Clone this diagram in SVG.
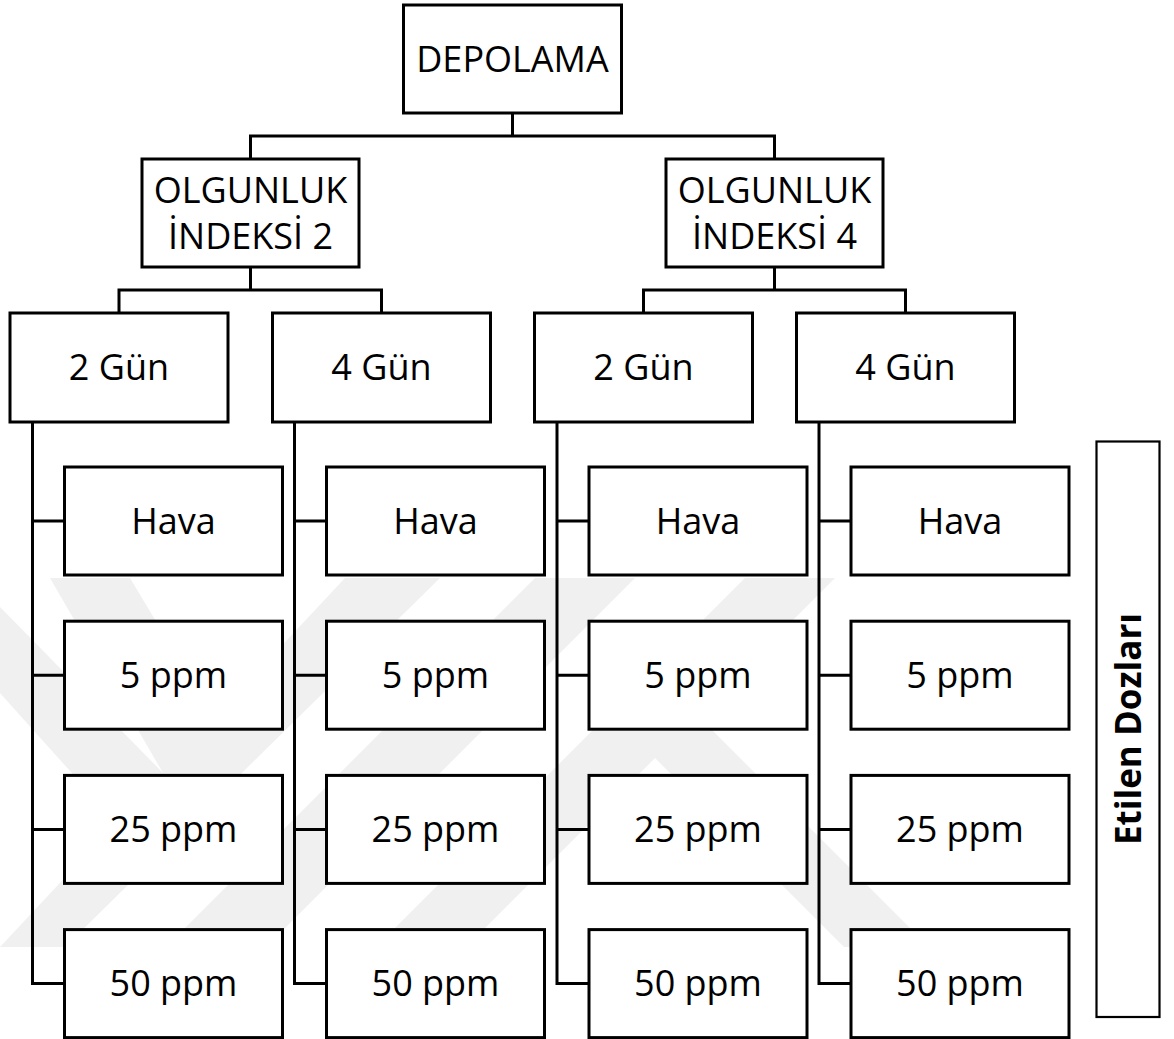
<svg xmlns="http://www.w3.org/2000/svg" width="1174" height="1039" viewBox="0 0 1174 1039">
<style>
.bx{fill:#fff;stroke:#000;stroke-width:3}
.ln{fill:none;stroke:#000;stroke-width:3;stroke-linejoin:miter;stroke-linecap:square}
.t{font-family:"Open Sans","Noto Sans","Liberation Sans",sans-serif;font-size:36px;fill:#000;text-anchor:middle}
.wm{fill:#f0f0f0;stroke:none}
</style>
<rect x="0" y="0" width="1174" height="1039" fill="#fff"/>
<g id="watermark">
<polygon class="wm" points="0,947 65,947 440,578 345,578"/>
<polygon class="wm" points="166,947 266,947 635,578 535,578"/>
<polygon class="wm" points="376,947 466,947 835,578 745,578"/>
<polygon class="wm" points="612,715 697,715 929,947 844,947"/>
<polygon class="wm" points="0,607 163,773 50,578 130,578 230,745 123,830 0,693"/>
</g>
<g id="connectors">
<path class="ln" d="M512.5,113 V136 M250.5,159 V136 H774.5 V159"/>
<path class="ln" d="M250.5,267 V290 M119,313 V290 H381.5 V313"/>
<path class="ln" d="M774.5,267 V290 M643.5,313 V290 H905.5 V313"/>
<path class="ln" d="M32.5,422 V983.5 H64.5 M32.5,521 H64.5 M32.5,675.2 H64.5 M32.5,829.4 H64.5"/>
<path class="ln" d="M294.5,422 V983.5 H326.5 M294.5,521 H326.5 M294.5,675.2 H326.5 M294.5,829.4 H326.5"/>
<path class="ln" d="M557,422 V983.5 H589 M557,521 H589 M557,675.2 H589 M557,829.4 H589"/>
<path class="ln" d="M819,422 V983.5 H851 M819,521 H851 M819,675.2 H851 M819,829.4 H851"/>
</g>
<g id="depolama"><rect class="bx" x="403.5" y="5" width="218" height="108"/><text class="t" x="512.5" y="71.5">DEPOLAMA</text></g>
<g id="oi2"><rect class="bx" x="142" y="159" width="217" height="108"/><text class="t" x="250.5" y="202.5">OLGUNLUK</text><text class="t" x="250.5" y="248.5">İNDEKSİ 2</text></g>
<g id="oi4"><rect class="bx" x="666" y="159" width="217" height="108"/><text class="t" x="774.5" y="202.5">OLGUNLUK</text><text class="t" x="774.5" y="248.5">İNDEKSİ 4</text></g>
<g id="g2a"><rect class="bx" x="10" y="313" width="218" height="109"/><text class="t" x="119" y="380">2 Gün</text></g>
<g id="g4a"><rect class="bx" x="272.5" y="313" width="218" height="109"/><text class="t" x="381.5" y="380">4 Gün</text></g>
<g id="g2b"><rect class="bx" x="534.5" y="313" width="218" height="109"/><text class="t" x="643.5" y="380">2 Gün</text></g>
<g id="g4b"><rect class="bx" x="796.5" y="313" width="218" height="109"/><text class="t" x="905.5" y="380">4 Gün</text></g>
<g id="c1">
<g id="c1r1"><rect class="bx" x="64.5" y="467" width="218" height="108"/><text class="t" x="173.5" y="533.8">Hava</text></g>
<g id="c1r2"><rect class="bx" x="64.5" y="621.2" width="218" height="108"/><text class="t" x="173.5" y="688">5 ppm</text></g>
<g id="c1r3"><rect class="bx" x="64.5" y="775.4" width="218" height="108"/><text class="t" x="173.5" y="842.2">25 ppm</text></g>
<g id="c1r4"><rect class="bx" x="64.5" y="929.6" width="218" height="108"/><text class="t" x="173.5" y="996.4">50 ppm</text></g>
</g>
<g id="c2">
<g id="c2r1"><rect class="bx" x="326.5" y="467" width="218" height="108"/><text class="t" x="435.5" y="533.8">Hava</text></g>
<g id="c2r2"><rect class="bx" x="326.5" y="621.2" width="218" height="108"/><text class="t" x="435.5" y="688">5 ppm</text></g>
<g id="c2r3"><rect class="bx" x="326.5" y="775.4" width="218" height="108"/><text class="t" x="435.5" y="842.2">25 ppm</text></g>
<g id="c2r4"><rect class="bx" x="326.5" y="929.6" width="218" height="108"/><text class="t" x="435.5" y="996.4">50 ppm</text></g>
</g>
<g id="c3">
<g id="c3r1"><rect class="bx" x="589" y="467" width="218" height="108"/><text class="t" x="698" y="533.8">Hava</text></g>
<g id="c3r2"><rect class="bx" x="589" y="621.2" width="218" height="108"/><text class="t" x="698" y="688">5 ppm</text></g>
<g id="c3r3"><rect class="bx" x="589" y="775.4" width="218" height="108"/><text class="t" x="698" y="842.2">25 ppm</text></g>
<g id="c3r4"><rect class="bx" x="589" y="929.6" width="218" height="108"/><text class="t" x="698" y="996.4">50 ppm</text></g>
</g>
<g id="c4">
<g id="c4r1"><rect class="bx" x="851" y="467" width="218" height="108"/><text class="t" x="960" y="533.8">Hava</text></g>
<g id="c4r2"><rect class="bx" x="851" y="621.2" width="218" height="108"/><text class="t" x="960" y="688">5 ppm</text></g>
<g id="c4r3"><rect class="bx" x="851" y="775.4" width="218" height="108"/><text class="t" x="960" y="842.2">25 ppm</text></g>
<g id="c4r4"><rect class="bx" x="851" y="929.6" width="218" height="108"/><text class="t" x="960" y="996.4">50 ppm</text></g>
</g>
<g id="etilen">
<rect x="1096.5" y="441.5" width="63" height="575.5" fill="#fff" stroke="#000" stroke-width="2.2"/>
<text class="t" transform="translate(1141,729) rotate(-90)" style="font-size:35px;font-weight:bold">Etilen Dozları</text>
</g>
</svg>
